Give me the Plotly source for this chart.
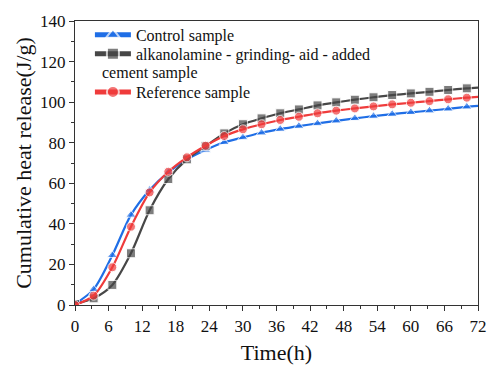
import plotly.graph_objects as go

time_h = [0, 3.33, 6.67, 10, 13.33, 16.67, 20, 23.33, 26.67, 30, 33.33, 36.67, 40,
          43.33, 46.67, 50, 53.33, 56.67, 60, 63.33, 66.67, 70, 72]
control = [0.5, 7.7, 24.5, 44.4, 56.7, 65.4, 71.8, 76.4, 80.2, 82.6, 84.9, 86.7, 88.2,
           89.5, 90.8, 92.0, 93.1, 94.1, 95.0, 95.8, 96.7, 97.7, 98.2]
alkanolamine = [0.5, 3.3, 9.9, 25.5, 46.7, 62.1, 71.8, 78.3, 84.6, 89.1, 92.0, 94.5, 96.4,
                98.4, 99.9, 101.2, 102.4, 103.5, 104.3, 105.1, 106.0, 106.8, 107.2]
reference = [0, 4.6, 18.6, 38.6, 55.5, 65.7, 72.8, 78.5, 83.3, 86.6, 89.1, 91.2, 92.8,
             94.5, 95.8, 96.9, 97.9, 98.9, 99.7, 100.5, 101.4, 102.2, 102.6]

names = ["Control sample", "alkanolamine - grinding- aid - added", "Reference sample"]
name_cont = "cement sample"
series = [control, alkanolamine, reference]
colors = ["#1f6ee6", "#474747", "#ef3b3b"]
symbols = ["triangle-up", "square", "circle"]
legend_ids = ["legend2", "legend3", "legend4"]
legend_y = [0.951, 0.884, 0.750]

FONT = "Liberation Serif"
msize = [9] * (len(time_h) - 1) + [0]

fig = go.Figure()
for nm, ys, c, s, lg in zip(names, series, colors, symbols, legend_ids):
    fig.add_trace(go.Scatter(
        x=time_h, y=ys, name=nm, mode="lines+markers", legend=lg, showlegend=True,
        line=dict(color=c, width=2.2, shape="spline", smoothing=0.8),
        marker=dict(symbol=s, size=msize, color=c),
    ))

def axis(rng, dtick, mdtick, title, standoff):
    return dict(
        range=rng, tick0=0, dtick=dtick, automargin=False,
        title=dict(text=title, font=dict(family=FONT, size=22, color="#111"), standoff=standoff),
        showline=True, linecolor="#333", linewidth=1.2, mirror=True,
        ticks="outside", ticklen=5, tickwidth=1, tickcolor="#333",
        showgrid=False, zeroline=False,
        tickfont=dict(family=FONT, size=17, color="#111"),
        minor=dict(ticks="outside", ticklen=3, tickcolor="#333", dtick=mdtick, showgrid=False),
    )

def leg(y):
    return dict(x=0.037, y=y, xanchor="left", yanchor="middle",
                bgcolor="rgba(0,0,0,0)", font=dict(family=FONT, size=16, color="#111"),
                itemsizing="constant", itemwidth=36)

fig.update_layout(
    width=488, height=367,
    margin=dict(l=75, r=10, t=21, b=62),
    plot_bgcolor="white", paper_bgcolor="white",
    font=dict(family=FONT, color="#111"),
    xaxis=axis([0, 72], 6, 3, "Time(h)", 10),
    yaxis=axis([0, 140], 20, 10, "Cumulative heat release(J/g)", 2),
    legend2=leg(legend_y[0]), legend3=leg(legend_y[1]), legend4=leg(legend_y[2]),
    annotations=[dict(text=name_cont, xref="paper", yref="paper", x=0.062, y=0.817,
                      xanchor="left", yanchor="middle", showarrow=False,
                      font=dict(family=FONT, size=16, color="#111"))],
)

fig.write_html("out.html")
